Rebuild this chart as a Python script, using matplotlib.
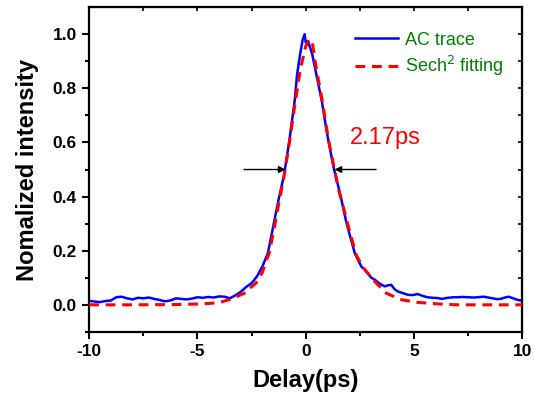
import matplotlib
matplotlib.use("Agg")
import matplotlib.pyplot as plt

plt.rcParams["font.family"] = ["Liberation Sans", "DejaVu Sans"]
plt.rcParams["axes.unicode_minus"] = False

trace_x = [-10.0, -9.75, -9.5, -9.25, -9.0, -8.75, -8.5, -8.25, -8.0, -7.75, -7.5, -7.25,
           -7.0, -6.75, -6.5, -6.25, -6.0, -5.75, -5.5, -5.25, -5.0, -4.75, -4.5, -4.25,
           -4.0, -3.75, -3.5, -3.25, -3.0, -2.75, -2.5, -2.25, -2.0, -1.75, -1.5, -1.25,
           -1.0, -0.75, -0.5, -0.4, -0.27, -0.14, -0.05, 0.0, 0.1, 0.29, 0.52, 0.75,
           0.97, 1.28, 1.59, 1.89, 2.27, 2.58, 2.73, 3.03, 3.19, 3.42, 3.65, 3.8,
           3.95, 4.1, 4.26, 4.5, 4.71, 4.95, 5.17, 5.4, 5.63, 5.85, 6.09, 6.3,
           6.55, 6.85, 7.0, 7.25, 7.5, 7.75, 7.92, 8.22, 8.5, 8.83, 9.0, 9.2,
           9.37, 9.55, 9.75, 10.0]
trace_y = [0.015, 0.012, 0.010, 0.014, 0.016, 0.028, 0.030, 0.024, 0.020, 0.026, 0.024, 0.027,
           0.022, 0.018, 0.013, 0.016, 0.024, 0.022, 0.020, 0.023, 0.028, 0.026, 0.029, 0.027,
           0.031, 0.030, 0.024, 0.035, 0.048, 0.066, 0.080, 0.105, 0.142, 0.19, 0.29, 0.39,
           0.48, 0.61, 0.76, 0.85, 0.92, 0.98, 1.0, 0.97, 0.975, 0.93, 0.84, 0.75,
           0.64, 0.51, 0.41, 0.30, 0.19, 0.14, 0.13, 0.10, 0.093, 0.078, 0.068, 0.072,
           0.074, 0.058, 0.049, 0.043, 0.037, 0.036, 0.040, 0.033, 0.028, 0.026, 0.025, 0.022,
           0.026, 0.028, 0.028, 0.029, 0.028, 0.027, 0.028, 0.030, 0.026, 0.021, 0.022, 0.027,
           0.030, 0.025, 0.019, 0.015]

# sech^2 fit curve
fit_x = [-10.0, -8.0, -6.0, -5.0, -4.5, -4.0, -3.67, -3.37, -3.07, -2.76, -2.6, -2.3,
         -2.15, -2.0, -1.84, -1.69, -1.46, -1.24, -1.0, -0.75, -0.5, -0.25, 0.0, 0.15,
         0.3, 0.44, 0.75, 1.05, 1.33, 1.5, 1.74, 2.05, 2.35, 2.73, 3.19, 3.72,
         4.41, 5.17, 6.2, 7.0, 10.0]
fit_y = [0.0, 0.0, 0.001, 0.003, 0.005, 0.008, 0.016, 0.022, 0.035, 0.045, 0.060, 0.08,
         0.10, 0.12, 0.16, 0.19, 0.28, 0.377, 0.475, 0.60, 0.74, 0.87, 0.955, 0.98,
         0.975, 0.895, 0.76, 0.61, 0.50, 0.43, 0.36, 0.265, 0.18, 0.13, 0.086, 0.043,
         0.019, 0.009, 0.003, 0.0, 0.0]

FWHM_LABEL = "2.17ps"
HALF_LEVEL = 0.5
LEFT_ARROW = (-2.85, -0.93)    # tail, head
RIGHT_ARROW = (3.25, 1.33)

fig = plt.figure(figsize=(5.34, 3.97), dpi=100)
ax = fig.add_axes([0.167, 0.164, 0.811, 0.818])

ax.plot(trace_x, trace_y, "-", color="#0000ff", lw=1.8, label="AC trace", zorder=2)
ax.plot(fit_x, fit_y, "--", color="#ff0000", lw=2.2, dashes=(3.2, 2.2),
        label="Sech$^2$ fitting", zorder=3)

for tail, head in (LEFT_ARROW, RIGHT_ARROW):
    ax.annotate("", xy=(head, HALF_LEVEL), xytext=(tail, HALF_LEVEL),
                arrowprops=dict(arrowstyle="-|>", color="black", lw=1.0,
                                mutation_scale=10, shrinkA=0, shrinkB=0))
ax.text(2.02, 0.615, FWHM_LABEL, color="#ff0000", fontsize=17, ha="left", va="center")

ax.set_xlim(-10, 10)
ax.set_ylim(-0.1, 1.1)
ax.set_xticks([-10, -5, 0, 5, 10])
ax.set_xticks([-7.5, -2.5, 2.5, 7.5], minor=True)
ax.set_yticks([0.0, 0.2, 0.4, 0.6, 0.8, 1.0])
ax.set_yticks([-0.1, 0.1, 0.3, 0.5, 0.7, 0.9], minor=True)
ax.set_yticklabels([f"{v:.1f}" for v in [0.0, 0.2, 0.4, 0.6, 0.8, 1.0]])
ax.tick_params(which="major", direction="out", length=5, width=1.5, labelsize=12.5, pad=4)
ax.tick_params(which="minor", direction="out", length=3, width=1.5)
for lab in ax.get_xticklabels() + ax.get_yticklabels():
    lab.set_fontweight("bold")
for s in ax.spines.values():
    s.set_linewidth(1.6)

# mirrored ticks on top / right
top = ax.secondary_xaxis("top")
top.set_xticks([-10, -5, 0, 5, 10])
top.set_xticks([-7.5, -2.5, 2.5, 7.5], minor=True)
top.tick_params(which="both", direction="in", length=3, width=1.2, labeltop=False)
right = ax.secondary_yaxis("right")
right.set_yticks([0.0, 0.2, 0.4, 0.6, 0.8, 1.0])
right.set_yticks([-0.1, 0.1, 0.3, 0.5, 0.7, 0.9], minor=True)
right.tick_params(which="both", direction="in", length=3, width=1.2, labelright=False)

ax.set_xlabel("Delay(ps)", fontsize=17, fontweight="bold", labelpad=7)
ax.set_ylabel("Nomalized intensity", fontsize=17, fontweight="bold", labelpad=10)

leg = ax.legend(loc="upper right", frameon=False, fontsize=13, handlelength=2.4,
                handletextpad=0.4, labelspacing=0.3, bbox_to_anchor=(0.995, 0.975))
for t in leg.get_texts():
    t.set_color("#008000")

fig.savefig("out.png", dpi=100)
